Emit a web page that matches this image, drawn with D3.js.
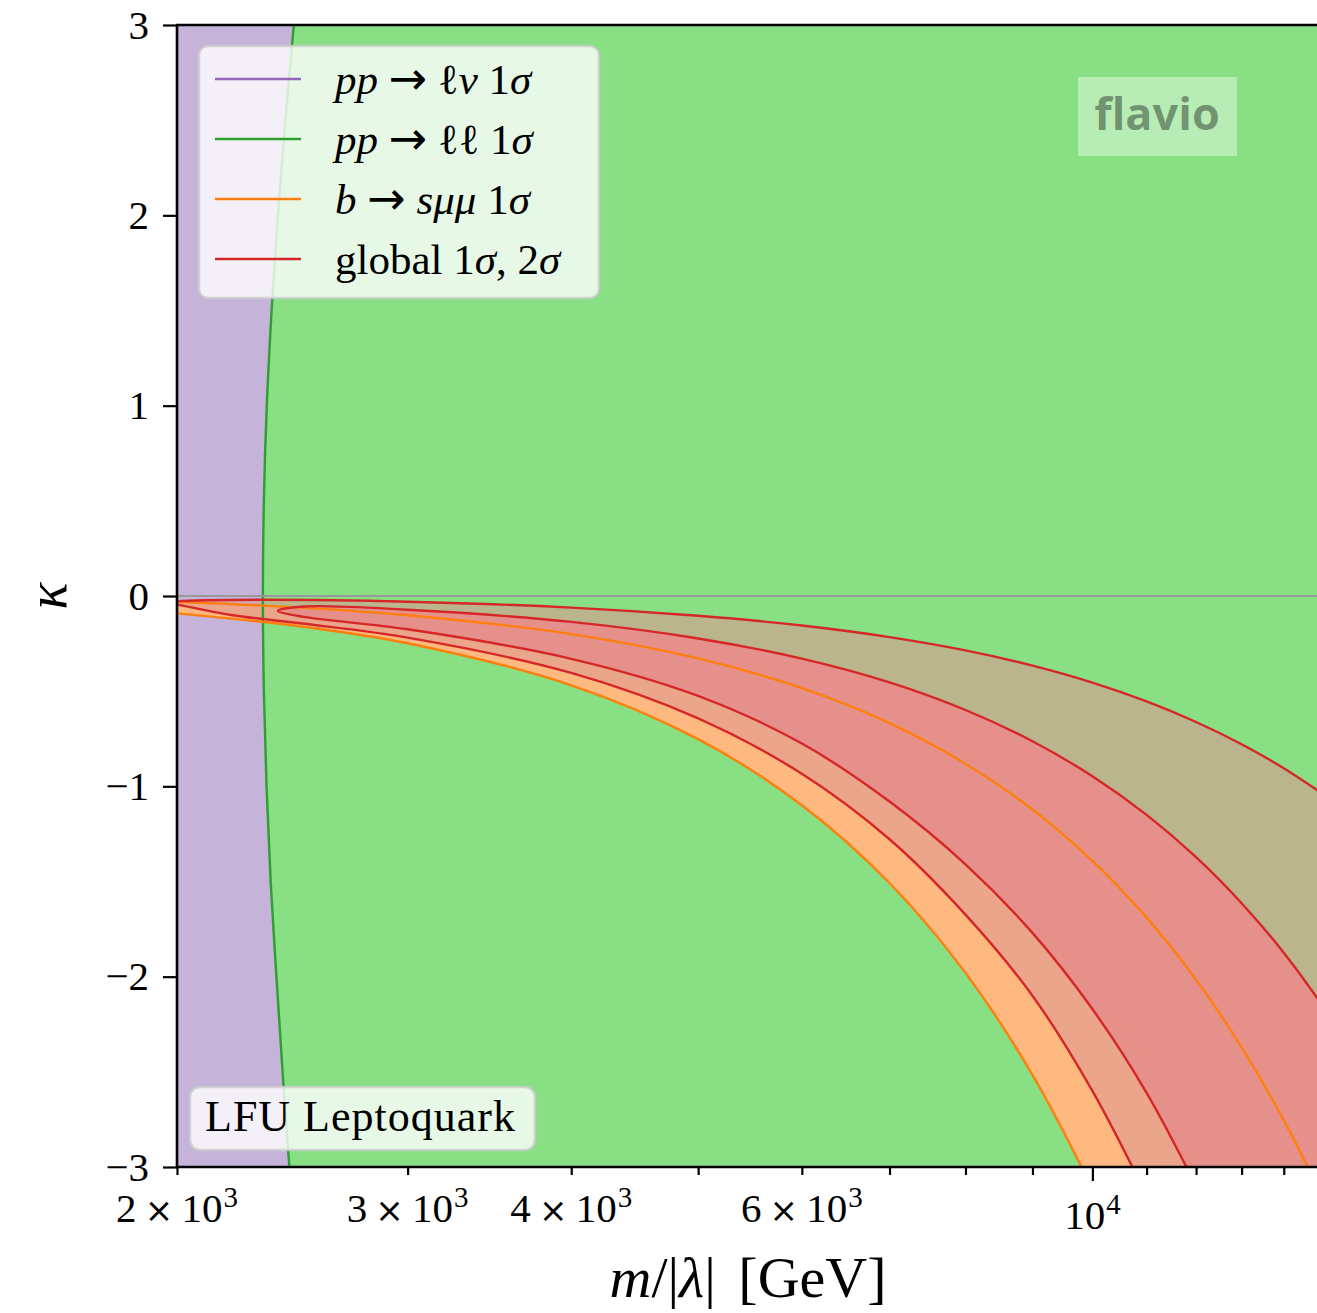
<!DOCTYPE html>
<html><head><meta charset="utf-8">
<script src="https://cdn.jsdelivr.net/npm/d3@7"></script>
<style>
html,body{margin:0;padding:0;background:#fff;}
svg text{font-family:"Liberation Serif","Times New Roman",serif;fill:#000;}
</style></head>
<body>
<svg id="chart" width="1317" height="1313"></svg>
<script>
// ---------------- data (m/|lambda| in GeV, kappa) ----------------
const xDomain = [2000, 15000];
const yDomain = [-3, 3];
const yTicks = [-3, -2, -1, 0, 1, 2, 3];
const xLabelTicks = [2000, 3000, 4000, 6000, 10000];
const xLabelLead = ["2", "3", "4", "6", ""];
const xLabelExp = ["3", "3", "3", "3", "4"];
const xMajorTicks = [10000];
const xMinorTicks = [2000, 3000, 4000, 5000, 6000, 7000, 8000, 9000, 11000, 12000, 13000, 14000];

// pp -> l l (green) boundary : [m, kappa]
const dilepBoundary = [[2456,3],[2420,2.5],[2388,2],[2362,1.5],[2342,1],[2330,0.5],[2326,0],
  [2330,-0.5],[2341,-1],[2358,-1.5],[2382,-2],[2408,-2.5],[2437,-3]];

// b -> s mu mu 1 sigma band
const bsmmUpper = [[2000,-0.030],[2500,-0.062],[3000,-0.101],[4000,-0.200],[5000,-0.328],[6000,-0.484],
  [7000,-0.668],[8000,-0.881],[9000,-1.122],[10000,-1.392],[11000,-1.690],[12000,-2.016],
  [13000,-2.371],[14000,-2.754],[15000,-3.166]];
const bsmmLower = [[2000,-0.091],[2500,-0.162],[3000,-0.248],[4000,-0.469],[5000,-0.752],[6000,-1.099],
  [7000,-1.508],[8000,-1.980],[9000,-2.516],[10000,-3.114]];

// global 2 sigma contour
const global2Upper = [[2000,-0.028],[2300,-0.020],[3000,-0.030],[4000,-0.061],[5000,-0.104],[6000,-0.155],
  [7000,-0.216],[8000,-0.286],[9000,-0.366],[10000,-0.455],[11000,-0.554],[12000,-0.662],
  [13000,-0.779],[14000,-0.905],[15000,-1.041]];
const global2Tip = [[1960,-0.036]];
const global2Lower = [[2000,-0.045],[2200,-0.100],[2500,-0.146],[3000,-0.219],[4000,-0.404],[5000,-0.643],
  [6000,-0.934],[7000,-1.278],[8000,-1.674],[9000,-2.100],[10000,-2.600],[11000,-3.150]];

// global 1 sigma contour
const global1Upper = [[2500,-0.055],[3000,-0.072],[4000,-0.136],[5000,-0.223],[6000,-0.329],[7000,-0.454],
  [8000,-0.599],[9000,-0.763],[10000,-0.947],[11000,-1.150],[12000,-1.372],[13000,-1.614],
  [14000,-1.874],[15000,-2.155]];
const global1Tip = [[2388,-0.078]];
const global1Lower = [[2500,-0.110],[3000,-0.175],[4000,-0.330],[5000,-0.525],[6000,-0.775],[7000,-1.080],
  [8000,-1.410],[9000,-1.770],[10000,-2.170],[11000,-2.610],[12000,-3.100]];

const colors = {purple:"#9467bd", green:"#2ca02c", orange:"#ff7f0e", red:"#d62728"};

// ---------------- drawing ----------------
const svg = d3.select("#chart");
const x = d3.scaleLog().domain(xDomain).range([177, 1323]);
const y = d3.scaleLinear().domain(yDomain).range([1167, 25]);
const X0 = x(xDomain[0]), X1 = x(xDomain[1]), Y0 = y(yDomain[0]), Y1 = y(yDomain[1]);
const xOuter = 20000;

svg.append("defs").append("clipPath").attr("id","plotclip").append("rect")
  .attr("x", X0).attr("y", Y1).attr("width", X1 - X0).attr("height", Y0 - Y1);

const plot = svg.append("g").attr("clip-path","url(#plotclip)");
const smooth = d3.line().x(d => x(d[0])).y(d => y(d[1])).curve(d3.curveCatmullRom.alpha(0.5));
const join = (a, b) => a + "L" + b.slice(1);
const P = (m, k) => x(m) + "," + y(k);

// pp -> l nu region (left) as background
plot.append("rect").attr("x", X0).attr("y", Y1).attr("width", X1 - X0).attr("height", Y0 - Y1)
  .attr("fill", "#c5b3d9");

// pp -> l l region
const gFirst = dilepBoundary[0], gLast = dilepBoundary[dilepBoundary.length - 1];
plot.append("path")
  .attr("d", smooth(dilepBoundary) + "L" + P(gLast[0], -3.5) + "L" + P(xOuter, -3.5) + "L" + P(xOuter, 3.5) + "L" + P(gFirst[0], 3.5) + "Z")
  .attr("fill", "#88df84");

// b -> s mu mu band
plot.append("path")
  .attr("d", join(smooth(bsmmUpper), smooth(bsmmLower.slice().reverse())) + "Z")
  .attr("fill", "#fdb97f");

// global 2 sigma
const g2seq = global2Lower.slice().reverse().concat(global2Tip, global2Upper);
plot.append("path")
  .attr("d", smooth(g2seq) + "L" + P(xOuter, -3.5) + "Z")
  .attr("fill", "rgb(222,150,146)").attr("fill-opacity", 0.58);

// global 1 sigma
const g1seq = global1Lower.slice().reverse().concat(global1Tip, global1Upper);
plot.append("path")
  .attr("d", smooth(g1seq) + "L" + P(xOuter, -3.5) + "Z")
  .attr("fill", "#e6908b");

// contour lines
const lw = 2.4;
plot.append("path").attr("d", smooth(dilepBoundary)).attr("fill","none").attr("stroke", colors.green).attr("stroke-width", lw);
plot.append("path").attr("d", smooth(bsmmUpper)).attr("fill","none").attr("stroke", colors.orange).attr("stroke-width", lw);
plot.append("path").attr("d", smooth(bsmmLower)).attr("fill","none").attr("stroke", colors.orange).attr("stroke-width", lw);
plot.append("path").attr("d", smooth(g2seq)).attr("fill","none").attr("stroke", colors.red).attr("stroke-width", lw);
plot.append("path").attr("d", smooth(g1seq)).attr("fill","none").attr("stroke", colors.red).attr("stroke-width", lw);

// kappa = 0 line
plot.append("line").attr("x1", X0).attr("x2", X1).attr("y1", y(0)).attr("y2", y(0))
  .attr("stroke", "#999999").attr("stroke-width", 2);

// ---------------- axes ----------------
const yAxis = svg.append("g").attr("transform", `translate(${X0},0)`)
  .call(d3.axisLeft(y).tickValues(yTicks).tickSize(14).tickPadding(14)
    .tickFormat(d => d < 0 ? "\u2212" + Math.abs(d) : String(d)));
yAxis.selectAll("text").style("font-size", "41px").attr("font-family", null);

const xMinor = svg.append("g").attr("transform", `translate(0,${Y0})`)
  .call(d3.axisBottom(x).tickValues(xMinorTicks).tickSize(8).tickFormat(""));
const xMajor = svg.append("g").attr("transform", `translate(0,${Y0})`)
  .call(d3.axisBottom(x).tickValues(xMajorTicks).tickSize(14).tickFormat(""));
[yAxis, xMinor, xMajor].forEach(g => {
  g.select(".domain").remove();
  g.selectAll(".tick line").attr("stroke", "#000").attr("stroke-width", 2.2);
});

// spines
svg.append("line").attr("x1", X0).attr("x2", X0).attr("y1", Y1 - 1).attr("y2", Y0 + 1).attr("stroke","#000").attr("stroke-width",2.6);
svg.append("line").attr("x1", X0 - 1).attr("x2", X1).attr("y1", Y0).attr("y2", Y0).attr("stroke","#000").attr("stroke-width",2.6);
svg.append("line").attr("x1", X0 - 1).attr("x2", X1).attr("y1", Y1).attr("y2", Y1).attr("stroke","#000").attr("stroke-width",2.6);

// x tick labels with superscripts
const xl = svg.append("g").selectAll("text").data(xLabelTicks).join("text")
  .attr("x", d => x(d)).attr("y", (d, i) => i === 4 ? 1229 : 1222)
  .attr("text-anchor", "middle").style("font-size", "41px");
xl.each(function(d, i) {
  const t = d3.select(this);
  if (xLabelLead[i]) {
    t.append("tspan").text(xLabelLead[i] + "\u2009");
    t.append("tspan").style("font-family", "'DejaVu Sans', sans-serif").style("font-size", "34px").text("\u00d7");
    t.append("tspan").text("\u200910");
  } else {
    t.append("tspan").text("10");
  }
  t.append("tspan").attr("dy", -15).attr("dx", 1).style("font-size", "29px").text(xLabelExp[i]);
});

// axis labels
const xlab = svg.append("text").attr("x", 748).attr("y", 1297).attr("text-anchor","middle").style("font-size","58px");
xlab.append("tspan").style("font-style","italic").text("m");
xlab.append("tspan").text("/|");
xlab.append("tspan").style("font-style","italic").text("\u03bb");
xlab.append("tspan").text("| [GeV]").style("word-spacing", "8px");

svg.append("text").attr("transform", "translate(66,596) rotate(-90)").attr("text-anchor","middle")
  .style("font-size","56px").style("font-style","italic").text("\u03ba");

// ---------------- legend ----------------
svg.append("rect").attr("x", 199).attr("y", 46).attr("width", 400).attr("height", 252).attr("rx", 9)
  .attr("fill", "#ffffff").attr("fill-opacity", 0.8).attr("stroke", "#cccccc").attr("stroke-opacity", 0.8).attr("stroke-width", 2.5);
const legColors = [colors.purple, colors.green, colors.orange, colors.red];
const rowY = [79, 139, 199, 259];
legColors.forEach((c, i) => {
  svg.append("line").attr("x1", 215).attr("x2", 301).attr("y1", rowY[i]).attr("y2", rowY[i])
    .attr("stroke", c).attr("stroke-width", 2.5);
});
// parts: [text, italic, isArrow]
function mathText(row, parts) {
  const t = svg.append("text").attr("x", 335).attr("y", rowY[row] + 15).style("font-size", "43px");
  parts.forEach(p => {
    const s = t.append("tspan").text(p[0]);
    if (p[1]) s.style("font-style", "italic");
    if (p[2]) s.style("font-family", "'DejaVu Sans', sans-serif").style("font-size", "46px");
  });
}
mathText(0, [["pp", true], [" ", false], ["\u2192", false, true], [" ", false], ["\u2113", false], ["\u03bd", true], [" 1", false], ["\u03c3", true]]);
mathText(1, [["pp", true], [" ", false], ["\u2192", false, true], [" ", false], ["\u2113\u2113", false], [" 1", false], ["\u03c3", true]]);
mathText(2, [["b", true], [" ", false], ["\u2192", false, true], [" ", false], ["s\u03bc\u03bc", true], [" 1", false], ["\u03c3", true]]);
mathText(3, [["global 1", false], ["\u03c3", true], [", 2", false], ["\u03c3", true]]);

// flavio logo
svg.append("rect").attr("x", 1078).attr("y", 77).attr("width", 159).attr("height", 79)
  .attr("fill", "#ffffff").attr("fill-opacity", 0.4);
svg.append("text").attr("x", 1157).attr("y", 130).attr("text-anchor", "middle")
  .style("font-family", "'Open Sans', sans-serif").style("font-weight", "700").style("font-size", "45px")
  .style("fill", "#000").style("fill-opacity", 0.38).text("flavio");

// model label
svg.append("rect").attr("x", 190).attr("y", 1087).attr("width", 345).attr("height", 63).attr("rx", 10)
  .attr("fill", "#ffffff").attr("fill-opacity", 0.8).attr("stroke", "#cccccc").attr("stroke-opacity", 0.8).attr("stroke-width", 2.5);
svg.append("text").attr("x", 205).attr("y", 1131).style("font-size", "44px").style("letter-spacing", "1px").text("LFU Leptoquark");
</script>
</body></html>
